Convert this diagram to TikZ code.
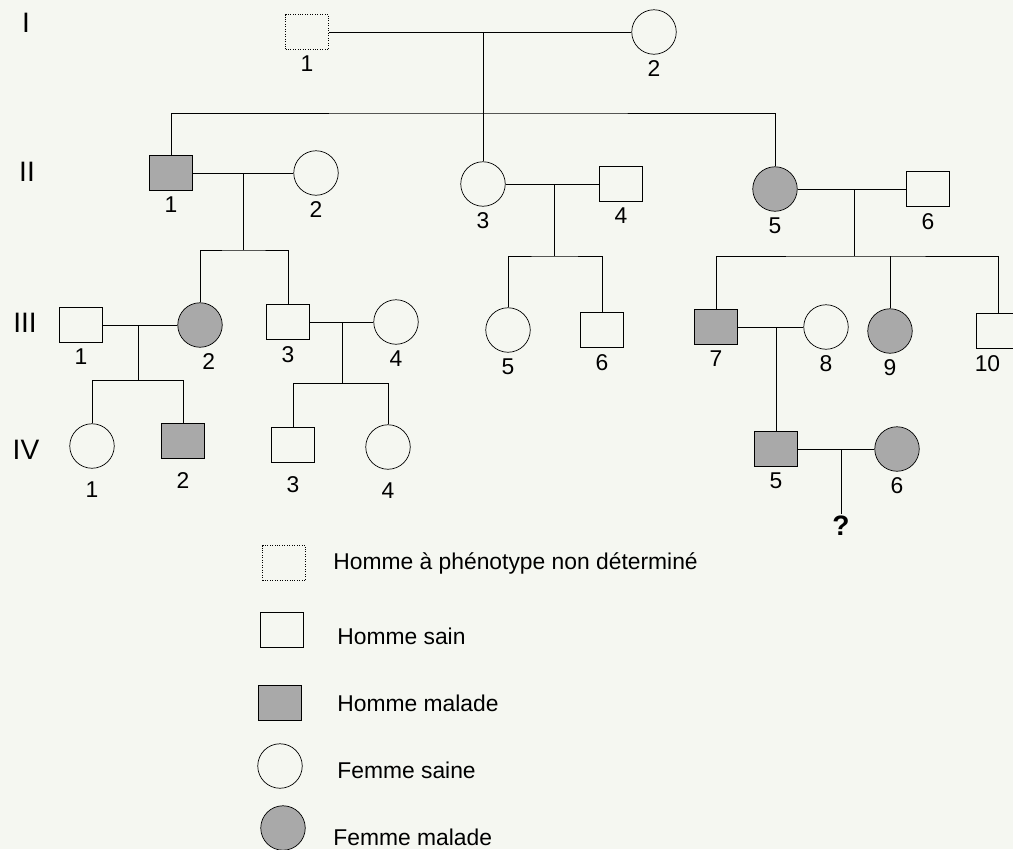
\documentclass[tikz,border=0pt]{standalone}
\usepackage{fontspec}
\setmainfont{Liberation Sans}
\usepackage{xcolor}
\definecolor{sick-gray}{HTML}{A9A9A9}
\definecolor{paper}{HTML}{F5F7F1}
\usepackage{tikz}
\usetikzlibrary{positioning}
\tikzset{
    x=0.02cm, y=-0.02cm, line width=0.8pt,
    every node/.style={font=\fontsize{13}{15}\selectfont},
    male/.style ={rectangle, draw, minimum width=0.86cm, minimum height=0.70cm, inner sep=0pt},
    female/.style ={circle, draw, minimum size=0.89cm, inner sep=0pt},
    sick/.style = {fill=sick-gray},
    unknown/.style = {densely dotted},
    gen/.style = {font=\fontsize{16}{18}\selectfont},
    key/.style = {anchor=west, inner sep=0pt},
    label distance=0pt
}
\begin{document}
\begin{tikzpicture}
      \useasboundingbox (0,0) rectangle (1013,849);
      \fill[paper] (0,0) rectangle (1013,849);

      \node[gen] (gen-I) at (26,23) {I};
      \node[gen] (gen-II) at (27,172) {II};
      \node[gen] (gen-III) at (25,323) {III};
      \node[gen] (gen-IV) at (26,450) {IV};

      \node[male, unknown, label={below:1}] (I-1) at (307,32) {};
      \node[female, label={below:2}] (I-2) at (654,32) {};

      \node[male, sick, label={below:1}] (II-1) at (171,173) {};
      \node[female, label={below:2}] (II-2) at (316,173) {};
      \node[female, label={below:3}] (II-3) at (483,184) {};
      \node[male, label={below:4}] (II-4) at (621,184) {};
      \node[female, sick, label={below:5}] (II-5) at (775,189) {};
      \node[male, label={below:6}] (II-6) at (928,189) {};

      \node[male, label={below:1}] (III-1) at (81,325) {};
      \node[female, sick, label={[xshift=5pt]below:2}] (III-2) at (200,325) {};
      \node[male, label={below:3}] (III-3) at (288,322) {};
      \node[female, label={below:4}] (III-4) at (396,322) {};
      \node[female, label={below:5}] (III-5) at (508,330) {};
      \node[male, label={below:6}] (III-6) at (602,330) {};
      \node[male, sick, label={below:7}] (III-7) at (716,327) {};
      \node[female, label={below:8}] (III-8) at (826,327) {};
      \node[female, sick, label={below:9}] (III-9) at (890,331) {};
      \node[male, label={[xshift=-6pt]below:10}] (III-10) at (998,331) {};

      \node[female, label={[label distance=4pt]below:1}] (IV-1) at (92,446) {};
      \node[male, sick, label={[label distance=4pt]below:2}] (IV-2) at (183,441) {};
      \node[male, label={[label distance=4pt]below:3}] (IV-3) at (293,445) {};
      \node[female, label={[label distance=4pt]below:4}] (IV-4) at (388,447) {};
      \node[male, sick, label={below:5}] (IV-5) at (776,449) {};
      \node[female, sick, label={below:6}] (IV-6) at (897,449) {};
      \node[inner sep=1pt, font=\fontsize{16}{18}\selectfont\bfseries] (query) at (841,526) {?};

      \coordinate (mate-I) at (483,32);
      \coordinate (sibs-II) at (483,113);
      \coordinate (mate-II12) at (243,173);
      \coordinate (sibs-III2) at (243,250);
      \coordinate (mate-II34) at (554,184);
      \coordinate (sibs-III56) at (554,256);
      \coordinate (mate-II56) at (854,189);
      \coordinate (sibs-III7) at (854,256);
      \coordinate (mate-III12) at (138,325);
      \coordinate (sibs-IV12) at (138,380);
      \coordinate (mate-III34) at (342,322);
      \coordinate (sibs-IV34) at (342,383);
      \coordinate (mate-III78) at (776,327);
      \coordinate (mate-IV56) at (841,449);

      \draw (I-1) -- (I-2);
      \draw (mate-I) -- (II-3);
      \draw (II-1) |- (sibs-II) -| (II-5);

      \draw (II-1) -- (II-2);
      \draw (mate-II12) -- (sibs-III2);
      \draw (III-2) |- (sibs-III2) -| (III-3);
      \draw (II-3) -- (II-4);
      \draw (mate-II34) -- (sibs-III56);
      \draw (III-5) |- (sibs-III56) -| (III-6);
      \draw (II-5) -- (II-6);
      \draw (mate-II56) -- (sibs-III7);
      \draw (III-7) |- (sibs-III7) -| (III-10);
      \draw (III-9) -- (III-9 |- sibs-III7);

      \draw (III-1) -- (III-2);
      \draw (mate-III12) -- (sibs-IV12);
      \draw (IV-1) |- (sibs-IV12) -| (IV-2);
      \draw (III-3) -- (III-4);
      \draw (mate-III34) -- (sibs-IV34);
      \draw (IV-3) |- (sibs-IV34) -| (IV-4);
      \draw (III-7) -- (III-8);
      \draw (mate-III78) -- (IV-5);
      \draw (IV-5) -- (IV-6);
      \draw (mate-IV56) -- (query);

      \node[male, unknown] (key-1) at (284,563) {};
      \node[key] (key-1-text) at (333,563) {Homme à phénotype non déterminé};
      \node[male] (key-2) at (282,630) {};
      \node[key] (key-2-text) at (337,636) {Homme sain};
      \node[male, sick] (key-3) at (280,703) {};
      \node[key] (key-3-text) at (337,703) {Homme malade};
      \node[female] (key-4) at (280,766) {};
      \node[key] (key-4-text) at (337,770) {Femme saine};
      \node[female, sick] (key-5) at (283,828) {};
      \node[key] (key-5-text) at (333,837) {Femme malade};
\end{tikzpicture}
\end{document}
